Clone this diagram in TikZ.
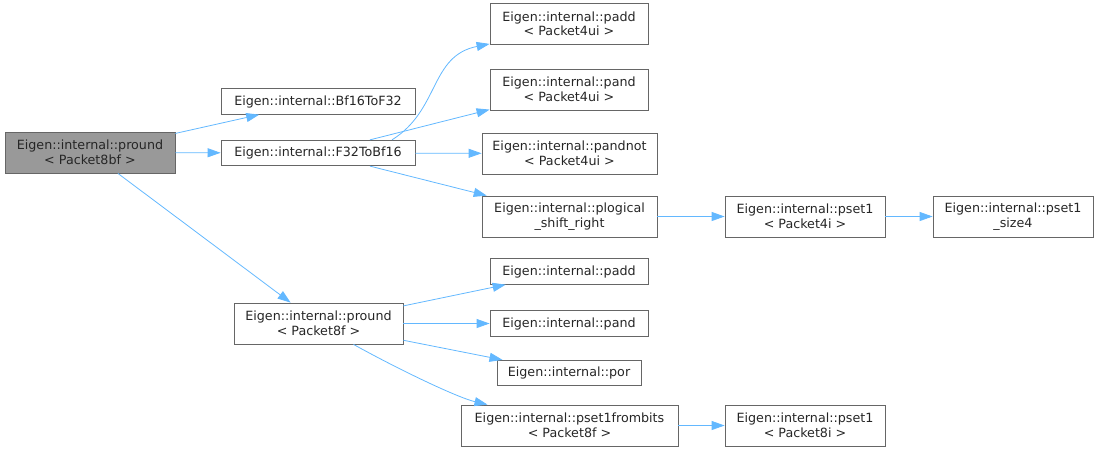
\documentclass[tikz,border=0pt]{standalone}
\usepackage{fontspec}
\setmainfont{DejaVu Sans}
\usetikzlibrary{positioning, arrows.meta}
\definecolor{edgeblue}{HTML}{63B8FF}
\definecolor{boxgray}{HTML}{666666}
\definecolor{rootgray}{HTML}{999999}
\tikzset{
  fn/.style={draw=boxgray, line width=0.8pt, rectangle, align=center, inner sep=0pt,
    font=\fontsize{12.7}{14.5}\selectfont, text=black!85, minimum height=41pt},
  fnone/.style={fn, minimum height=25.5pt},
  root/.style={fn, fill=rootgray},
  edge/.style={draw=edgeblue, line width=0.8pt, -{Triangle[length=13pt,width=9pt]}}
}

\begin{document}
\begin{tikzpicture}[x=1pt, y=1pt]
\useasboundingbox (0,0) rectangle (1099,-456);

\node[root, minimum width=170pt] (pround8bf) at (90,-152.5) {Eigen::internal::pround\\< Packet8bf >};

\node[fnone, minimum width=194pt] (bf16tof32) at (318,-101.5) {Eigen::internal::Bf16ToF32};
\node[fnone, minimum width=194pt] (f32tobf16) at (318,-153) {Eigen::internal::F32ToBf16};
\node[fn, minimum width=169pt] (pround8f) at (318.5,-323.5) {Eigen::internal::pround\\< Packet8f >};

\node[fn, minimum width=158pt] (padd4ui) at (569,-24) {Eigen::internal::padd\\< Packet4ui >};
\node[fn, minimum width=158pt] (pand4ui) at (569,-89.5) {Eigen::internal::pand\\< Packet4ui >};
\node[fn, minimum width=175pt] (pandnot4ui) at (569.5,-153.5) {Eigen::internal::pandnot\\< Packet4ui >};
\node[fn, minimum width=175pt] (plogical) at (569.5,-216.5) {Eigen::internal::plogical\\\_shift\_right};
\node[fn, minimum width=160pt] (pset4i) at (805,-216.5) {Eigen::internal::pset1\\< Packet4i >};
\node[fn, minimum width=160pt] (psetsize4) at (1013,-216.5) {Eigen::internal::pset1\\\_size4};

\node[fnone, minimum width=158pt] (padd) at (569,-271.5) {Eigen::internal::padd};
\node[fnone, minimum width=158pt] (pand) at (569,-323.5) {Eigen::internal::pand};
\node[fnone, minimum width=144pt] (por) at (569,-373) {Eigen::internal::por};
\node[fn, minimum width=217pt] (pset1frombits) at (569.5,-425.5) {Eigen::internal::pset1frombits\\< Packet8f >};
\node[fn, minimum width=160pt] (pset8i) at (805,-425.5) {Eigen::internal::pset1\\< Packet8i >};

\draw[edge] (pround8bf) -- (bf16tof32);
\draw[edge] (pround8bf) -- (f32tobf16);
\draw[edge] (pround8bf) -- (pround8f);

\draw[edge] ([xshift=74pt]f32tobf16.north) .. controls +(48,30) and +(-60,-12) .. ([yshift=1pt]padd4ui.south west);
\draw[edge] (f32tobf16) -- (pand4ui);
\draw[edge] (f32tobf16) -- (pandnot4ui);
\draw[edge] (f32tobf16) -- (plogical);
\draw[edge] (plogical) -- (pset4i);
\draw[edge] (pset4i) -- (psetsize4);

\draw[edge] (pround8f) -- (padd);
\draw[edge] (pround8f) -- (pand);
\draw[edge] (pround8f) -- (por);
\draw[edge] ([xshift=35pt]pround8f.south) .. controls +(45,-25) and +(-30,7) .. ([xshift=-82pt]pset1frombits.north);
\draw[edge] (pset1frombits) -- (pset8i);
\end{tikzpicture}
\end{document}
